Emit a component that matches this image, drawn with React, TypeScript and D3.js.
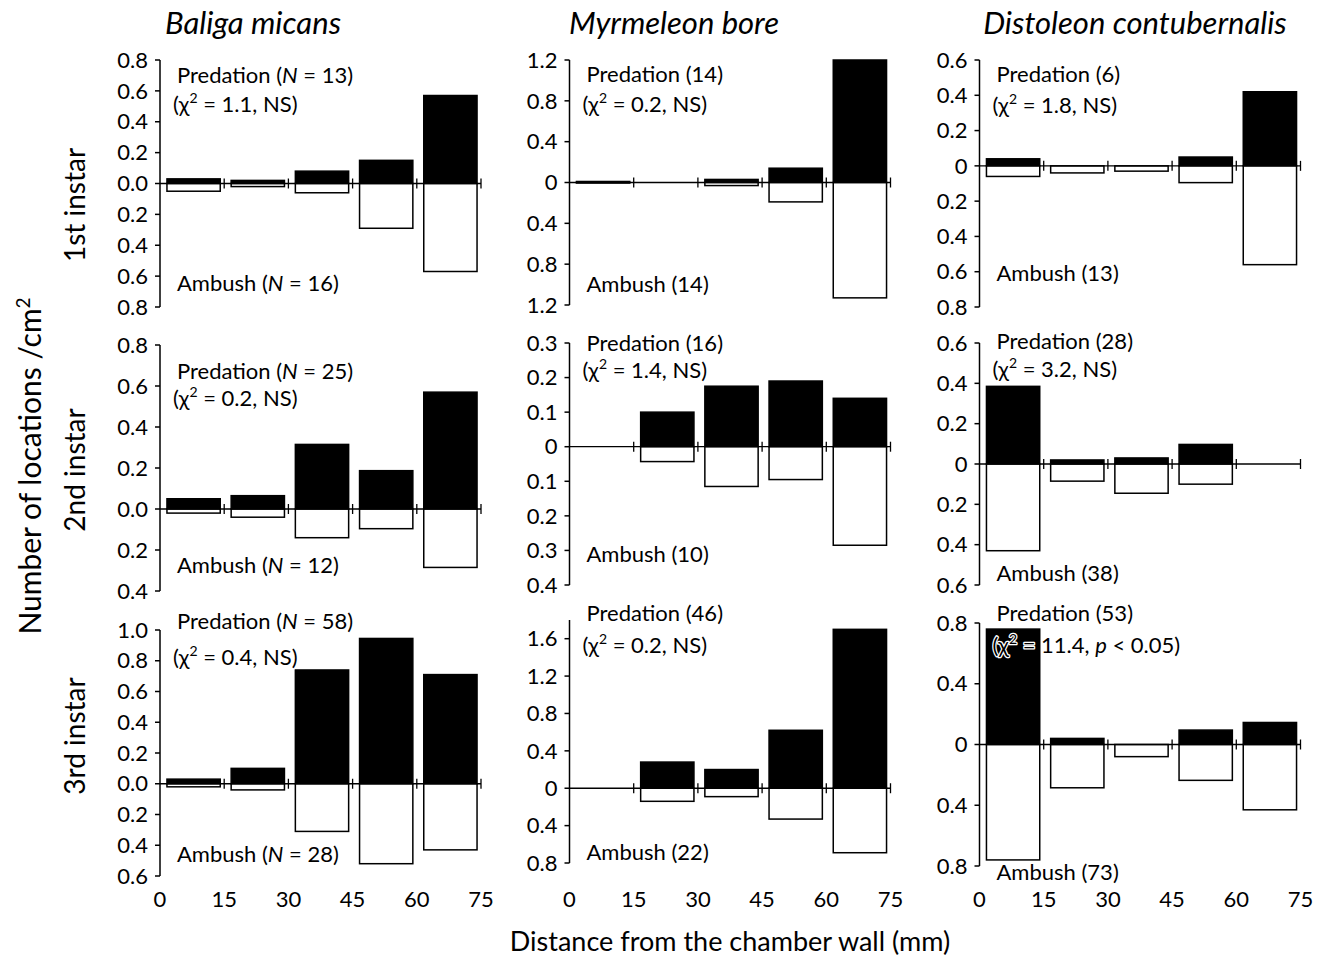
import React from 'react'
import * as d3 from 'd3'

// Column and row headings
const species = ['Baliga micans', 'Myrmeleon bore', 'Distoleon contubernalis']
const instars = ['1st instar', '2nd instar', '3rd instar']
const distanceTicks = [0, 15, 30, 45, 60, 75]
const bins = ['0-15', '15-30', '30-45', '45-60', '60-75']

// Number of locations /cm2, one array per panel (row-major: instar x species)
const predBaliga1 = [0.03, 0.02, 0.08, 0.15, 0.57]
const ambBaliga1 = [0.05, 0.02, 0.06, 0.29, 0.57]
const predMyrm1 = [0.01, 0, 0.03, 0.14, 1.2]
const ambMyrm1 = [0.005, 0, 0.03, 0.19, 1.13]
const predDist1 = [0.04, 0, 0, 0.05, 0.42]
const ambDist1 = [0.06, 0.04, 0.03, 0.095, 0.56]
const predBaliga2 = [0.05, 0.065, 0.315, 0.187, 0.57]
const ambBaliga2 = [0.02, 0.04, 0.14, 0.096, 0.285]
const predMyrm2 = [0, 0.1, 0.175, 0.19, 0.14]
const ambMyrm2 = [0, 0.043, 0.115, 0.095, 0.285]
const predDist2 = [0.385, 0.02, 0.03, 0.097, 0]
const ambDist2 = [0.43, 0.085, 0.145, 0.1, 0]
const predBaliga3 = [0.03, 0.1, 0.74, 0.945, 0.71]
const ambBaliga3 = [0.02, 0.04, 0.31, 0.52, 0.43]
const predMyrm3 = [0, 0.28, 0.2, 0.62, 1.7]
const ambMyrm3 = [0, 0.14, 0.09, 0.33, 0.69]
const predDist3 = [0.76, 0.04, 0, 0.095, 0.145]
const ambDist3 = [0.76, 0.285, 0.08, 0.236, 0.43]

const predation = [predBaliga1, predMyrm1, predDist1, predBaliga2, predMyrm2, predDist2, predBaliga3, predMyrm3, predDist3]
const ambush = [ambBaliga1, ambMyrm1, ambDist1, ambBaliga2, ambMyrm2, ambDist2, ambBaliga3, ambMyrm3, ambDist3]

// y axis extents (upward max, downward max) and tick step
const yUpper = [0.8, 1.2, 0.6, 0.8, 0.3, 0.6, 1.0, 1.8, 0.8]
const yLower = [0.8, 1.2, 0.8, 0.4, 0.4, 0.6, 0.6, 0.8, 0.8]
const yStep = [0.2, 0.4, 0.2, 0.2, 0.1, 0.2, 0.2, 0.4, 0.4]

// annotation values
const nPredation = [13, 14, 6, 25, 16, 28, 58, 46, 53]
const nAmbush = [16, 14, 13, 12, 10, 38, 28, 22, 73]
const chiSquare = ['1.1', '0.2', '1.8', '0.2', '1.4', '3.2', '0.4', '0.2', '11.4']
const significant = [false, false, false, false, false, false, false, false, true]

const FONT = "Lato, 'Open Sans', sans-serif"
const W = 1322
const H = 957

// layout
const colX = [160, 569.5, 979.5]
const plotW = 321
const panelTop = [60, 60, 60, 345, 343, 343, 630, 620, 623]
const panelBottom = [307, 305, 307, 591, 585, 585, 876, 863, 866]
const predY = [83, 82, 82, 379, 351, 349, 629, 621, 621]
const chiY = [112, 112, 113, 406, 378, 377, 665, 653, 653]
const ambY = [291, 292, 281, 573, 562, 581, 862, 860, 880]

const fs = 22

function Panel({ i }: { i: number }) {
  const col = i % 3
  const x0 = colX[col]
  const showN = col === 0

  const x = d3.scaleLinear().domain([0, 75]).range([x0, x0 + plotW])
  const band = d3.scaleBand<string>()
    .domain(bins)
    .range([x0 + 1.5, x0 + plotW + 1.5])
    .paddingInner(0.17)
    .paddingOuter(0.085)
  const y = d3.scaleLinear()
    .domain([-yLower[i], yUpper[i]])
    .range([panelBottom[i], panelTop[i]])

  const nTicks = Math.round((yLower[i] + yUpper[i]) / yStep[i] + 1e-6)
  const ticks = d3.range(nTicks + 1)
    .map(k => Math.round((-yLower[i] + k * yStep[i]) * 1000) / 1000)
    .filter(v => v <= yUpper[i] + 1e-9)
  const fmt = (v: number) => (Math.abs(v) < 1e-9 ? (showN ? '0.0' : '0') : d3.format('.1f')(Math.abs(v)))

  const y0 = y(0)
  const halo = { stroke: '#fff', strokeWidth: 2.5, paintOrder: 'stroke' as const, strokeLinejoin: 'round' as const }

  return (
    <g>
      {/* bars */}
      {bins.map((b, k) => (
        <g key={b}>
          {predation[i][k] > 0 && (
            <rect x={band(b)} y={y(predation[i][k])} width={band.bandwidth()}
              height={y0 - y(predation[i][k])} fill="#000" stroke="#000" strokeWidth={1.5} />
          )}
          {ambush[i][k] > 0 && (
            <rect x={band(b)} y={y0} width={band.bandwidth()}
              height={y(-ambush[i][k]) - y0} fill="#fff" stroke="#000" strokeWidth={1.5} />
          )}
        </g>
      ))}

      {/* zero line with crossing ticks */}
      <line x1={x(0)} x2={x(75)} y1={y0} y2={y0} stroke="#000" strokeWidth={1.3} />
      {distanceTicks.slice(1).map(d => (
        <line key={d} x1={x(d)} x2={x(d)} y1={y0 - 5} y2={y0 + 5} stroke="#000" strokeWidth={1.3} />
      ))}

      {/* y axis */}
      <line x1={x0} x2={x0} y1={panelTop[i]} y2={panelBottom[i]} stroke="#000" strokeWidth={1.5} />
      {ticks.map(v => (
        <g key={v}>
          <line x1={x0 - 5} x2={x0} y1={y(v)} y2={y(v)} stroke="#000" strokeWidth={1.5} />
          <text x={x0 - 12} y={y(v)} dy="0.35em" textAnchor="end" fontSize={fs} fontFamily={FONT}>{fmt(v)}</text>
        </g>
      ))}

      {/* annotations */}
      <text x={x0 + 17} y={predY[i]} fontSize={fs} fontFamily={FONT} {...halo}>
        {showN ? (
          <>Predation (<tspan fontStyle="italic">N</tspan> = {nPredation[i]})</>
        ) : (
          <>Predation ({nPredation[i]})</>
        )}
      </text>
      <text x={x0 + 13} y={chiY[i]} fontSize={fs} fontFamily={FONT} {...halo}>
        <tspan>(χ</tspan>
        <tspan dy={-9} fontSize={14}>2</tspan>
        <tspan dy={9}> = {chiSquare[i]}, </tspan>
        {significant[i] ? (
          <>
            <tspan fontStyle="italic">p</tspan>
            <tspan> &lt; 0.05)</tspan>
          </>
        ) : (
          <tspan>NS)</tspan>
        )}
      </text>
      <text x={x0 + 17} y={ambY[i]} fontSize={fs} fontFamily={FONT}>
        {showN ? (
          <>Ambush (<tspan fontStyle="italic">N</tspan> = {nAmbush[i]})</>
        ) : (
          <>Ambush ({nAmbush[i]})</>
        )}
      </text>
    </g>
  )
}

export default function App() {
  const rowCenters = [205, 470, 736]
  const titleCenters = [253, 674, 1135]

  return (
    <svg width={W} height={H} style={{ position: 'absolute', left: 0, top: 0, background: '#fff' }}>
      <rect width={W} height={H} fill="#fff" />
      {species.map((s, c) => (
        <text key={s} x={titleCenters[c]} y={34} textAnchor="middle" fontSize={31}
          fontStyle="italic" fontFamily={FONT}>{s}</text>
      ))}
      {instars.map((s, r) => (
        <text key={s} transform={`translate(85,${rowCenters[r]}) rotate(-90)`} textAnchor="middle"
          fontSize={28} fontFamily={FONT}>{s}</text>
      ))}
      <text transform="translate(41,466) rotate(-90)" textAnchor="middle" fontSize={30} fontFamily={FONT}>
        Number of locations /cm<tspan dy={-11} fontSize={19}>2</tspan>
      </text>

      {d3.range(9).map(i => <Panel key={i} i={i} />)}

      {/* shared distance tick labels */}
      {colX.map((cx, c) => {
        const x = d3.scaleLinear().domain([0, 75]).range([cx, cx + plotW])
        return distanceTicks.map(d => (
          <text key={`${c}-${d}`} x={x(d)} y={907} textAnchor="middle" fontSize={fs} fontFamily={FONT}>{d}</text>
        ))
      })}
      <text x={730} y={951} textAnchor="middle" fontSize={27} fontFamily={FONT}>
        Distance from the chamber wall (mm)
      </text>
    </svg>
  )
}
